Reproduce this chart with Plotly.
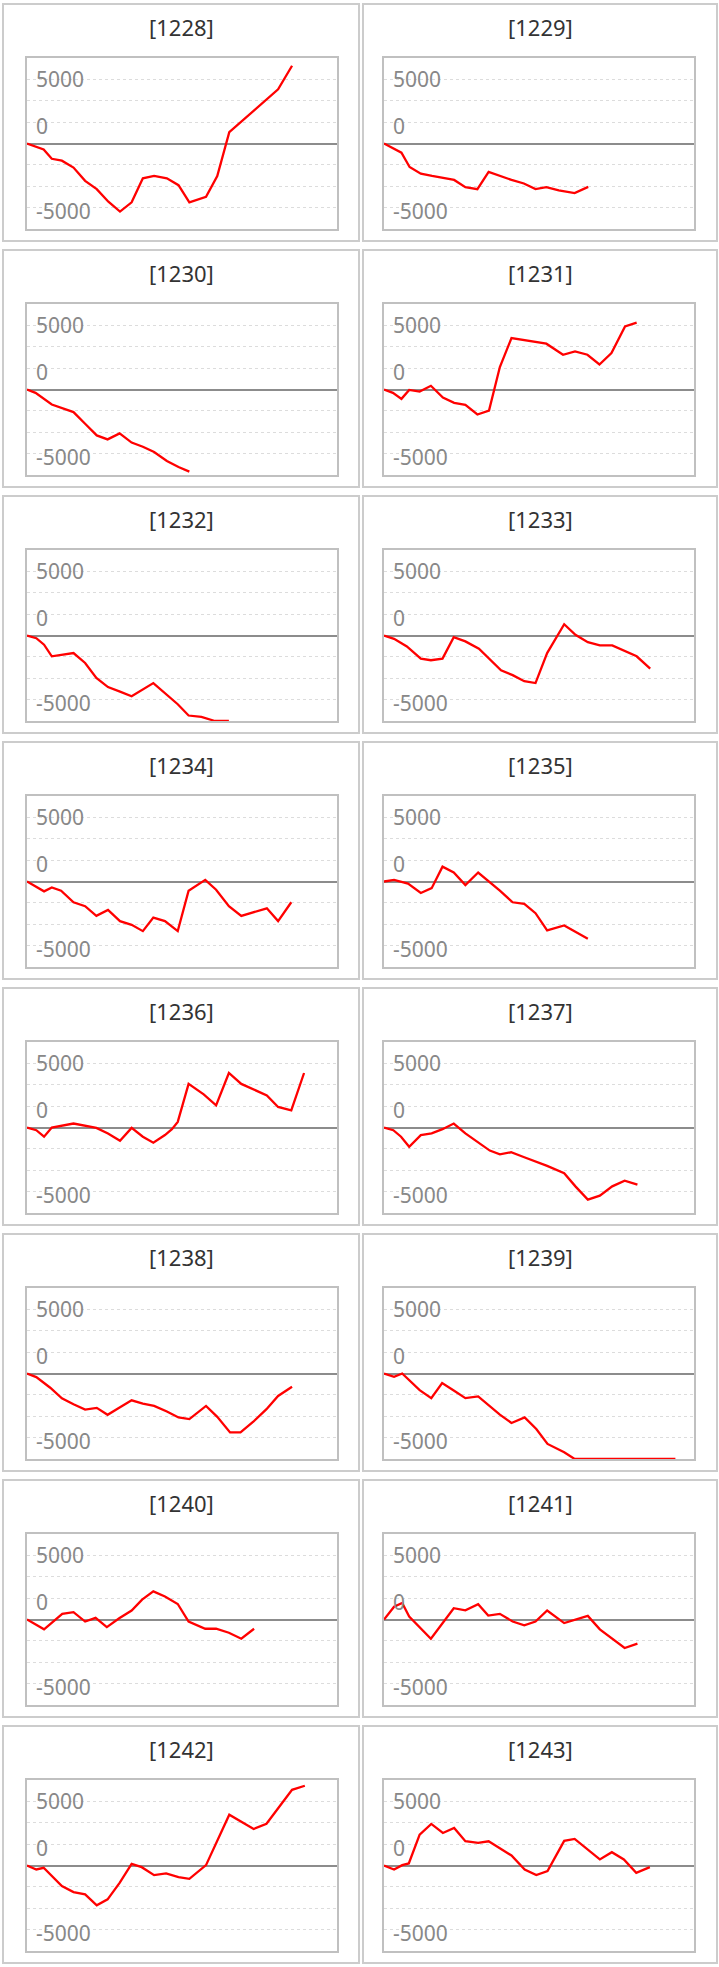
import plotly.graph_objects as go

W, H = 719, 1967

machines = ["1228", "1229", "1230", "1231", "1232", "1233", "1234", "1235",
            "1236", "1237", "1238", "1239", "1240", "1241", "1242", "1243"]

y_tick_values = [5000, 0, -5000]
y_tick_labels = ["5000", "0", "-5000"]

g1228 = [0, 430, 640, 900, 1200, 1500, 1800, 2100, 2400, 2700, 2990, 3280, 3610, 3910, 4190, 4620, 4910, 5220, 6480, 6840]
d1228 = [0, -460, -1190, -1340, -1880, -2910, -3560, -4540, -5310, -4590, -2710, -2530, -2710, -3250, -4590, -4150, -2530, 880, 4230, 6060]

g1229 = [0, 450, 660, 950, 1240, 1520, 1810, 2100, 2410, 2700, 2990, 3290, 3610, 3910, 4190, 4510, 4920, 5270]
d1229 = [0, -720, -1830, -2350, -2530, -2680, -2840, -3400, -3560, -2220, -2530, -2840, -3120, -3560, -3400, -3660, -3870, -3380]

g1230 = [0, 220, 640, 900, 1200, 1500, 1800, 2080, 2390, 2700, 2990, 3280, 3610, 3910, 4190]
d1230 = [0, -260, -1170, -1430, -1760, -2670, -3580, -3890, -3420, -4140, -4460, -4870, -5570, -6040, -6400]

g1231 = [0, 230, 450, 650, 920, 1210, 1520, 1810, 2100, 2410, 2710, 2990, 3290, 3590, 3890, 4190, 4620, 4930, 5250, 5560, 5870, 6220, 6520]
d1231 = [0, -260, -730, -30, -160, 290, -630, -1040, -1200, -1950, -1640, 1750, 4010, 3880, 3750, 3570, 2710, 2970, 2710, 1950, 2840, 4920, 5210]

g1232 = [0, 240, 440, 640, 1200, 1500, 1790, 2090, 2400, 2700, 3260, 3560, 3890, 4170, 4500, 4850, 5210]
d1232 = [0, -210, -720, -1620, -1370, -2140, -3300, -4020, -4380, -4740, -3710, -4480, -5360, -6240, -6340, -6667, -6667]

g1233 = [0, 260, 590, 950, 1210, 1510, 1800, 2100, 2450, 2750, 3020, 3320, 3620, 3910, 4210, 4650, 4940, 5260, 5570, 5890, 6190, 6520, 6870]
d1233 = [0, -260, -850, -1800, -1930, -1800, -130, -460, -1030, -1880, -2710, -3090, -3560, -3710, -1370, 880, 50, -520, -770, -770, -1190, -1620, -2580]

g1234 = [0, 440, 640, 880, 1200, 1500, 1790, 2090, 2400, 2700, 2990, 3260, 3560, 3890, 4170, 4600, 4880, 5210, 5530, 5860, 6190, 6480, 6820]
d1234 = [0, -770, -460, -720, -1620, -1930, -2680, -2220, -3090, -3380, -3870, -2810, -3090, -3870, -720, 130, -640, -1930, -2680, -2400, -2090, -3090, -1620]

g1235 = [0, 260, 620, 950, 1230, 1510, 1800, 2100, 2430, 2690, 2990, 3320, 3620, 3910, 4210, 4650, 4940, 5260]
d1235 = [0, 130, -160, -900, -520, 1160, 700, -280, 700, 50, -720, -1620, -1750, -2470, -3810, -3430, -3940, -4460]

g1236 = [0, 240, 440, 640, 1200, 1790, 2090, 2400, 2700, 2990, 3260, 3560, 3740, 3890, 4170, 4560, 4880, 5210, 5530, 5860, 6190, 6480, 6820, 7150]
d1236 = [0, -210, -720, 0, 310, -30, -460, -1030, -30, -720, -1190, -590, -130, 440, 3400, 2580, 1730, 4250, 3400, 2960, 2500, 1600, 1340, 4250]

g1237 = [0, 240, 440, 650, 950, 1230, 1510, 1800, 2100, 2430, 2730, 2990, 3280, 3620, 3910, 4210, 4650, 4940, 5260, 5570, 5890, 6210, 6540]
d1237 = [0, -210, -720, -1500, -590, -460, -130, 310, -460, -1160, -1800, -2090, -1930, -2320, -2650, -2990, -3560, -4590, -5620, -5310, -4590, -4150, -4460]

g1238 = [0, 240, 600, 900, 1200, 1500, 1800, 2080, 2390, 2700, 2990, 3280, 3610, 3910, 4190, 4620, 4910, 5240, 5510, 5840, 6180, 6480, 6840]
d1238 = [0, -280, -1110, -1930, -2400, -2810, -2680, -3220, -2650, -2090, -2350, -2530, -2960, -3430, -3560, -2530, -3380, -4590, -4590, -3760, -2780, -1750, -1030]

g1239 = [0, 260, 470, 920, 1220, 1500, 1810, 2100, 2430, 2700, 2990, 3290, 3630, 3930, 4220, 4650, 4920, 7520]
d1239 = [0, -260, 0, -1300, -1920, -750, -1350, -1920, -1790, -2510, -3210, -3860, -3420, -4330, -5490, -6140, -6667, -6667]

g1240 = [0, 440, 910, 1200, 1500, 1770, 2060, 2380, 2700, 2970, 3260, 3560, 3890, 4170, 4600, 4880, 5210, 5530, 5860]
d1240 = [0, -770, 440, 570, -160, 130, -590, 100, 700, 1550, 2190, 1800, 1210, -160, -720, -720, -1030, -1500, -720]

g1241 = [0, 260, 470, 650, 1210, 1800, 2100, 2430, 2690, 2990, 3320, 3620, 3910, 4210, 4650, 4940, 5260, 5570, 5890, 6210, 6540]
d1241 = [0, 1000, 1290, 230, -1500, 880, 720, 1190, 310, 440, -160, -460, -160, 700, -280, 0, 280, -770, -1500, -2220, -1880]

g1242 = [0, 240, 430, 900, 1200, 1500, 1800, 2080, 2390, 2700, 2960, 3280, 3590, 3910, 4190, 4620, 5220, 5850, 6180, 6840, 7170]
d1242 = [0, -310, -180, -1610, -2070, -2250, -3110, -2640, -1350, 130, -130, -750, -620, -910, -1040, 30, 3960, 2850, 3260, 5900, 6220]

g1243 = [0, 260, 470, 640, 920, 1220, 1520, 1810, 2100, 2430, 2700, 2990, 3290, 3630, 3930, 4220, 4650, 4920, 5250, 5570, 5880, 6190, 6510, 6860]
d1243 = [0, -310, 30, 160, 2410, 3240, 2540, 2930, 1890, 1760, 1890, 1320, 780, -310, -750, -440, 1920, 2070, 1240, 470, 1040, 470, -570, -130]

series = {
    "1228": (g1228, d1228), "1229": (g1229, d1229), "1230": (g1230, d1230), "1231": (g1231, d1231),
    "1232": (g1232, d1232), "1233": (g1233, d1233), "1234": (g1234, d1234), "1235": (g1235, d1235),
    "1236": (g1236, d1236), "1237": (g1237, d1237), "1238": (g1238, d1238), "1239": (g1239, d1239),
    "1240": (g1240, d1240), "1241": (g1241, d1241), "1242": (g1242, d1242), "1243": (g1243, d1243),
}

X_MAX = 8000
Y_MAX = 6667

FONT = "Noto Sans, Liberation Sans, sans-serif"

fig = go.Figure()
layout = dict(
    width=W, height=H, margin=dict(l=0, r=0, t=0, b=0),
    paper_bgcolor="white", plot_bgcolor="white", showlegend=False,
)
shapes = []
annotations = []

panel_x = [(3, 359), (363, 717)]
plot_x = [(27, 337), (384, 694)]
ROW = 246

for i, m in enumerate(machines):
    r, c = divmod(i, 2)
    n = i + 1
    xs = "" if n == 1 else str(n)
    g, d = series[m]
    fig.add_trace(go.Scatter(x=g, y=d, mode="lines",
                             line=dict(color="#ff0000", width=2.3),
                             xaxis="x" + xs, yaxis="y" + xs,
                             hoverinfo="skip"))
    px0, px1 = plot_x[c]
    top = 58 + ROW * r
    bot = 229 + ROW * r
    layout["xaxis" + xs] = dict(
        domain=[px0 / W, px1 / W], range=[0, X_MAX], anchor="y" + xs,
        showgrid=False, zeroline=False, showticklabels=False, ticks="",
        showline=True, mirror=True, linecolor="#c0c0c0", linewidth=2,
        fixedrange=True,
    )
    layout["yaxis" + xs] = dict(
        domain=[1 - bot / H, 1 - top / H], range=[-Y_MAX, Y_MAX], anchor="x" + xs,
        tick0=0, dtick=Y_MAX / 4, showticklabels=False, ticks="",
        showgrid=True, gridcolor="#dcdcdc", gridwidth=1, griddash="dot",
        zeroline=True, zerolinecolor="#8c8c8c", zerolinewidth=1.6,
        showline=True, mirror=True, linecolor="#c0c0c0", linewidth=2,
        fixedrange=True,
    )
    bx0, bx1 = panel_x[c]
    shapes.append(dict(type="rect", xref="paper", yref="paper",
                       x0=bx0 / W, x1=bx1 / W,
                       y0=1 - (241 + ROW * r) / H, y1=1 - (4 + ROW * r) / H,
                       line=dict(color="#cccccc", width=2), layer="below"))
    annotations.append(dict(text="[" + m + "]", xref="paper", yref="paper",
                            x=(bx0 + bx1) / 2 / W, y=1 - (27 + ROW * r) / H,
                            xanchor="center", yanchor="middle", showarrow=False,
                            font=dict(family=FONT, size=22, color="#333333")))
    shifts = {5000: 0, 0: 18, -5000: -3}
    for v, lab in zip(y_tick_values, y_tick_labels):
        annotations.append(dict(text=lab, xref="x" + xs + " domain", yref="y" + xs,
                                x=0, y=v, xanchor="left", yanchor="middle",
                                xshift=7, yshift=shifts[v], showarrow=False,
                                font=dict(family=FONT, size=21, color="#888888")))

layout["shapes"] = shapes
layout["annotations"] = annotations
fig.update_layout(**layout)
fig.write_html("out.html", config={"displayModeBar": False},
               post_script="document.body.style.margin='0';document.body.style.padding='0';")
